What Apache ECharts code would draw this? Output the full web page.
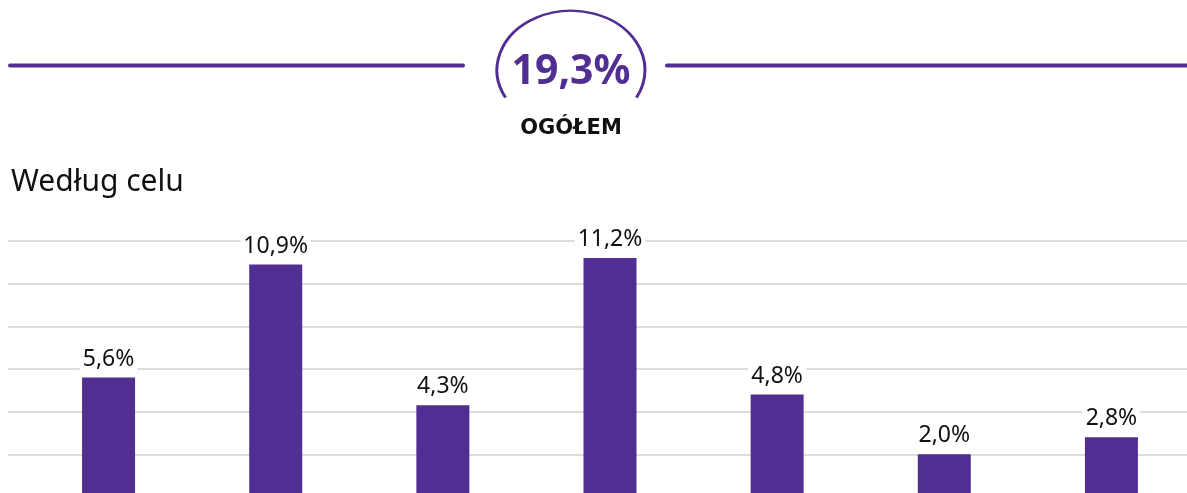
<!DOCTYPE html>
<html>
<head>
<meta charset="utf-8">
<script src="https://cdn.jsdelivr.net/npm/echarts@6/dist/echarts.min.js"></script>
<style>
  html, body { margin: 0; padding: 0; background: #fff; overflow: hidden; }
  /* a bit larger than the window: last category and the zero line run past the edges */
  #chart { width: 1196px; height: 505px; }
</style>
</head>
<body>
<div id="chart"></div>
<script>
// data
const categories = ['Cel 1', 'Cel 2', 'Cel 3', 'Cel 4', 'Cel 5', 'Cel 6', 'Cel 7']
const values = [5.6, 10.9, 4.3, 11.2, 4.8, 2.0, 2.8]
const total = 19.3
const totalLabel = 'OGÓŁEM'
const subtitle = 'Według celu'
const yTicks = [0, 2, 4, 6, 8, 10, 12]

const purple = '#512e91'
const fmt = v => v.toFixed(1).replace('.', ',') + '%'

const chart = echarts.init(document.getElementById('chart'))

const option = {
  animation: false,
  graphic: [
    // header lines
    {
      type: 'line',
      shape: { x1: 10, y1: 65.5, x2: 463, y2: 65.5 },
      style: { stroke: purple, lineWidth: 4, lineCap: 'round' }
    },
    {
      type: 'line',
      shape: { x1: 667, y1: 65.5, x2: 1200, y2: 65.5 },
      style: { stroke: purple, lineWidth: 4, lineCap: 'round' }
    },
    // oval round the total, open at the bottom
    {
      type: 'arc',
      x: 571,
      y: 70,
      scaleY: 0.8,
      shape: {
        cx: 0,
        cy: 0,
        r: 74,
        startAngle: 152.2 * Math.PI / 180,
        endAngle: 387.8 * Math.PI / 180,
        clockwise: true
      },
      style: { stroke: purple, lineWidth: 3, fill: null }
    },
    {
      type: 'text',
      x: 571,
      y: 72,
      style: {
        text: fmt(total),
        fill: purple,
        font: 'bold 41px "Noto Sans"',
        align: 'center',
        verticalAlign: 'middle'
      }
    },
    {
      type: 'text',
      x: 571,
      y: 129,
      style: {
        text: totalLabel,
        fill: '#111',
        font: 'bold 21px "DejaVu Sans"',
        align: 'center',
        verticalAlign: 'middle'
      }
    },
    {
      type: 'text',
      x: 11,
      y: 182,
      style: {
        text: subtitle,
        fill: '#111',
        font: '30px "Noto Sans"',
        align: 'left',
        verticalAlign: 'middle'
      }
    }
  ],
  grid: [
    // bars
    { left: 25, top: 241, width: 1170, height: 256 },
    // gridlines only
    { left: 8, right: 0, top: 241, height: 256 }
  ],
  xAxis: [
    {
      gridIndex: 0,
      type: 'category',
      data: categories,
      show: false
    },
    {
      gridIndex: 1,
      type: 'value',
      min: 0,
      max: 1,
      show: false
    }
  ],
  yAxis: [
    {
      gridIndex: 0,
      type: 'value',
      min: yTicks[0],
      max: yTicks[yTicks.length - 1],
      interval: 2,
      axisLine: { show: false },
      axisTick: { show: false },
      axisLabel: { show: false },
      splitLine: { show: false }
    },
    {
      gridIndex: 1,
      type: 'value',
      min: yTicks[0],
      max: yTicks[yTicks.length - 1],
      interval: 2,
      axisLine: { show: false },
      axisTick: { show: false },
      axisLabel: { show: false },
      splitLine: { show: true, lineStyle: { color: '#dddddd', width: 2 } }
    }
  ],
  series: [
    {
      type: 'bar',
      xAxisIndex: 0,
      yAxisIndex: 0,
      data: values,
      barWidth: 53,
      z: 5,
      itemStyle: { color: purple },
      label: {
        show: true,
        position: 'top',
        distance: 7,
        formatter: p => fmt(p.value),
        color: '#111',
        fontFamily: 'Noto Sans',
        fontSize: 23,
        backgroundColor: '#fff',
        padding: [1, 3, 0, 3]
      }
    }
  ]
}

chart.setOption(option)
</script>
</body>
</html>
